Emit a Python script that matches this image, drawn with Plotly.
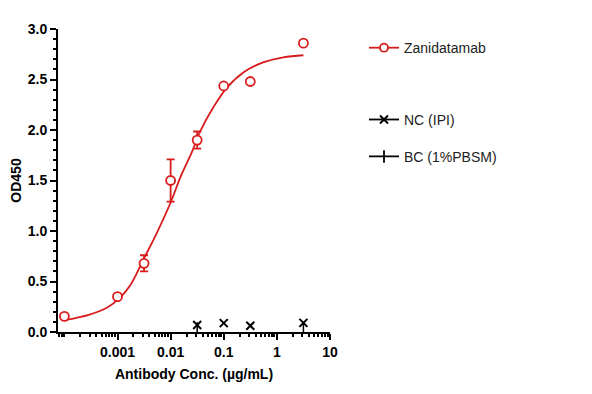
import plotly.graph_objects as go

# Zanidatamab measured points
conc = [0.0001, 0.001, 0.00316, 0.01, 0.0316, 0.1, 0.316, 3.16]
od = [0.155, 0.35, 0.68, 1.50, 1.90, 2.436, 2.48, 2.86]
err = [0.0, 0.0, 0.08, 0.21, 0.085, 0.0, 0.0, 0.0]

# fitted curve
fit_conc = [0.000107, 0.000288, 0.00063, 0.00107, 0.00178, 0.00316, 0.00537,
            0.00977, 0.0158, 0.0251, 0.0355, 0.0646, 0.115, 0.234, 0.55, 1.32, 3.16]
fit_od = [0.12, 0.17, 0.24, 0.33, 0.47, 0.73, 0.97,
          1.27, 1.55, 1.78, 1.98, 2.23, 2.42, 2.57, 2.67, 2.72, 2.74]

# negative control
nc_conc = [0.0316, 0.1, 0.316, 3.16]
nc_od = [0.07, 0.088, 0.062, 0.09]

# blank control
bc_conc = [0.0316, 3.16]
bc_od = [0.035, 0.035]

x_ticks = [0.001, 0.01, 0.1, 1, 10]
x_ticklabels = ["0.001", "0.01", "0.1", "1", "10"]

RED = "#d81c1c"
FONT = "Liberation Sans, Arial, sans-serif"

fig = go.Figure()

fig.add_trace(go.Scatter(x=fit_conc, y=fit_od, mode="lines", line=dict(color=RED, width=1.8, shape="spline"),
                         showlegend=False, hoverinfo="skip"))
fig.add_trace(go.Scatter(x=conc, y=od, mode="markers",
                         marker=dict(symbol="circle", size=9, color="white", line=dict(width=1.8, color=RED)),
                         error_y=dict(type="data", array=err, color=RED, thickness=1.8, width=4),
                         showlegend=False))
fig.add_trace(go.Scatter(x=nc_conc, y=nc_od, mode="markers",
                         marker=dict(symbol="x-thin-open", size=8, color="black", line=dict(width=2, color="black")),
                         showlegend=False))
fig.add_trace(go.Scatter(x=bc_conc, y=bc_od, mode="markers",
                         marker=dict(symbol="line-ns-open", size=9, color="black", line=dict(width=1.5, color="black")),
                         showlegend=False))

# legend entries
fig.add_trace(go.Scatter(x=[None], y=[None], mode="lines+markers", name="Zanidatamab",
                         line=dict(color=RED, width=1.8),
                         marker=dict(symbol="circle", size=8, color="white", line=dict(width=1.8, color=RED)),
                         legend="legend"))
fig.add_trace(go.Scatter(x=[None], y=[None], mode="lines+markers", name="NC (IPI)",
                         line=dict(color="black", width=1.8),
                         marker=dict(symbol="x-thin-open", size=8, color="black", line=dict(width=2, color="black")),
                         legend="legend2"))
fig.add_trace(go.Scatter(x=[None], y=[None], mode="lines+markers", name="BC (1%PBSM)",
                         line=dict(color="black", width=1.8),
                         marker=dict(symbol="line-ns-open", size=9, color="black", line=dict(width=1.8, color="black")),
                         legend="legend3"))

leg_common = dict(bgcolor="rgba(0,0,0,0)", font=dict(family=FONT, size=14, color="#222222"),
                  xanchor="left", yanchor="middle", x=1.125)
fig.update_layout(
    width=592, height=394,
    margin=dict(l=50, r=270, t=21, b=70),
    paper_bgcolor="white", plot_bgcolor="white",
    legend=dict(**leg_common, y=0.937),
    legend2=dict(**leg_common, y=0.70),
    legend3=dict(**leg_common, y=0.578),
)

fig.update_xaxes(
    type="log", range=[-4.12, 1.0], automargin=False,
    tickvals=x_ticks, ticktext=x_ticklabels,
    showline=True, linecolor="black", linewidth=2,
    ticks="outside", ticklen=6, tickwidth=2, tickcolor="black",
    minor=dict(ticks="outside", ticklen=3, tickwidth=1.5, tickcolor="black", dtick="D1"),
    showgrid=False, zeroline=False,
    tickfont=dict(family=FONT, size=14, color="black", weight="bold"),
    title=dict(text="Antibody Conc. (µg/mL)", font=dict(family=FONT, size=14, color="black", weight="bold"),
               standoff=10),
)
fig.update_yaxes(
    range=[0, 3.0], dtick=0.5, tickformat=".1f", automargin=False,
    showline=True, linecolor="black", linewidth=2,
    ticks="outside", ticklen=6, tickwidth=2, tickcolor="black",
    minor=dict(ticks="outside", ticklen=3, tickwidth=1.5, tickcolor="black", dtick=0.1),
    showgrid=False, zeroline=False,
    tickfont=dict(family=FONT, size=14, color="black", weight="bold"),
    title=dict(text="OD450", font=dict(family=FONT, size=14, color="black", weight="bold"), standoff=10),
)

fig.write_html("out.html")
